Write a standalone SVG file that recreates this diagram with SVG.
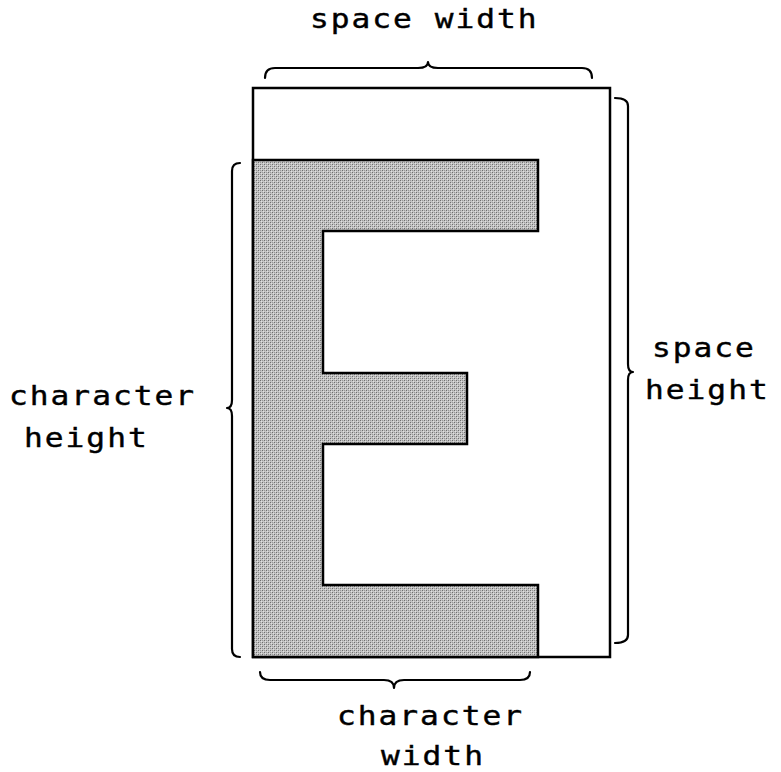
<svg xmlns="http://www.w3.org/2000/svg" width="781" height="772" viewBox="0 0 781 772">
<defs>
<pattern id="halftone" width="4" height="4" patternUnits="userSpaceOnUse">
<rect width="4" height="4" fill="#c4c4c4"/>
<rect x="0" y="0" width="1" height="1" fill="#6e6e6e"/>
<rect x="2" y="2" width="1" height="1" fill="#6e6e6e"/>
<rect x="2" y="0" width="1" height="1" fill="#9a9a9a"/>
<rect x="0" y="2" width="1" height="1" fill="#9a9a9a"/>
<rect x="1" y="1" width="1" height="1" fill="#e0e0e0"/>
<rect x="3" y="3" width="1" height="1" fill="#e0e0e0"/>
</pattern>
</defs>
<style>
.lbl{font-family:"DejaVu Sans Mono","Liberation Mono",monospace;font-size:26px;letter-spacing:1.68px;fill:#000;stroke:#000;stroke-width:0.4}
.brace{fill:none;stroke:#000;stroke-width:2.2;stroke-linecap:round;stroke-linejoin:round}
.box{fill:#fff;stroke:#000;stroke-width:2.5}
.glyph{fill:url(#halftone);stroke:#000;stroke-width:2.5;stroke-linejoin:miter}
</style>
<rect width="781" height="772" fill="#fff"/>
<g id="space-box">
<rect class="box" x="253" y="88" width="357" height="569"/>
</g>
<g id="letter-E">
<polygon class="glyph" points="253,160 538,160 538,231 323,231 323,373 467,373 467,444 323,444 323,585 538,585 538,657 253,657"/>
</g>
<g id="connectors">
<path class="brace" d="M265,78 Q265,68 275,68 L418,68 Q428,68 428,62 Q428,68 438,68 L582,68 Q592,68 592,78"/>
<path class="brace" d="M240,163 Q232,163 232,171 L232,400 Q232,408 227,408 Q232,408 232,416 L232,649 Q232,657 240,657"/>
<path class="brace" d="M615,98 Q628,98 628,106 L628,364 Q628,372 633,372 Q628,372 628,380 L628,635 Q628,643 615,643"/>
<path class="brace" d="M260,672 Q260,680 270,680 L384,680 Q394,680 394,688 Q394,680 404,680 L520,680 Q530,680 530,672"/>
</g>
<g id="label-space-width" transform="scale(1.2,1)">
<text class="lbl" x="258.3" y="28">space width</text>
</g>
<g id="label-character-height" transform="scale(1.2,1)">
<text class="lbl" x="7.5" y="405">character</text>
<text class="lbl" x="20" y="447">height</text>
</g>
<g id="label-space-height" transform="scale(1.2,1)">
<text class="lbl" x="543.3" y="357">space</text>
<text class="lbl" x="537.5" y="399">height</text>
</g>
<g id="label-character-width" transform="scale(1.2,1)">
<text class="lbl" x="280.8" y="725">character</text>
<text class="lbl" x="317.5" y="765">width</text>
</g>
</svg>
